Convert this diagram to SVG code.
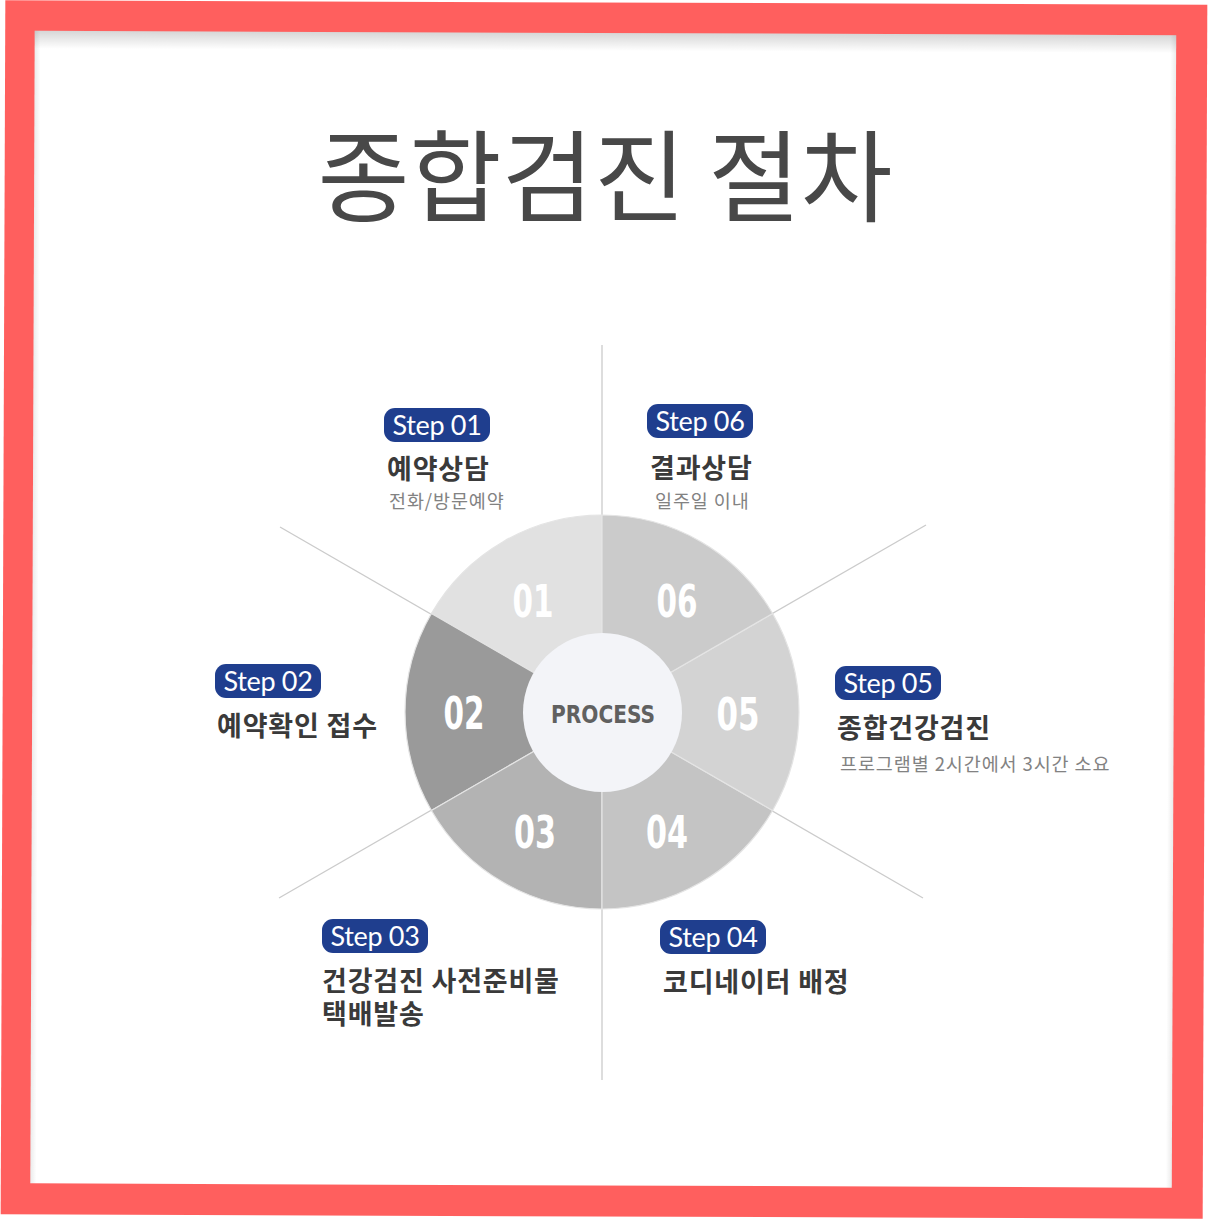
<svg xmlns="http://www.w3.org/2000/svg" width="1208" height="1220" viewBox="0 0 1208 1220">
  <defs>
    <linearGradient id="topShadow" x1="0" y1="0" x2="0" y2="1">
      <stop offset="0" stop-color="#000" stop-opacity="0.16"/>
      <stop offset="1" stop-color="#000" stop-opacity="0"/>
    </linearGradient>
    <linearGradient id="leftShadow" x1="0" y1="0" x2="1" y2="0">
      <stop offset="0" stop-color="#000" stop-opacity="0.08"/>
      <stop offset="1" stop-color="#000" stop-opacity="0"/>
    </linearGradient>
    <linearGradient id="rightShadow" x1="1" y1="0" x2="0" y2="0">
      <stop offset="0" stop-color="#000" stop-opacity="0.08"/>
      <stop offset="1" stop-color="#000" stop-opacity="0"/>
    </linearGradient>
    <style>
      .badge { fill: #1f3e8e; }
      .badgeText { font-family: Lato, "Noto Sans", "Liberation Sans", sans-serif; font-size: 27px; fill: #ffffff; text-anchor: middle; letter-spacing: -0.3px; }
      .head { font-family: "Noto Sans CJK KR", "Noto Sans", sans-serif; font-weight: 700; font-size: 27px; fill: #3a3a3a; letter-spacing: 0.8px; }
      .sub { font-family: "Noto Sans CJK KR", "Noto Sans", sans-serif; font-weight: 400; font-size: 18.5px; fill: #828282; letter-spacing: 0.9px; }
      .num { font-family: "DejaVu Sans Condensed", "DejaVu Sans", sans-serif; font-weight: 700; font-size: 44px; fill: #ffffff; text-anchor: middle; }
      .conn { stroke: #cbcbcb; stroke-width: 1.3; fill: none; }
      .wedge { stroke: #e4e4e4; stroke-width: 1.2; }
    </style>
  </defs>

  <rect width="1208" height="1220" fill="#ffffff"/>

  <g id="frame" transform="rotate(0.22 604 609.5)">
    <rect x="3" y="2.5" width="1202" height="1214" fill="#ff5f5e"/>
    <rect x="32.5" y="33" width="1141.5" height="1152.5" fill="#ffffff"/>
    <rect x="32.5" y="33" width="1141.5" height="18" fill="url(#topShadow)"/>
    <rect x="32.5" y="33" width="6" height="1152.5" fill="url(#leftShadow)"/>
    <rect x="1168" y="33" width="6" height="1152.5" fill="url(#rightShadow)"/>
  </g>

  <text id="title" x="605" y="214" text-anchor="middle" font-family="'Noto Sans CJK KR', 'Noto Sans', sans-serif" font-size="100" font-weight="400" fill="#484848" textLength="575" lengthAdjust="spacingAndGlyphs">종합검진 절차</text>

  <g id="connectors">
    <line class="conn" x1="602" y1="345" x2="602" y2="1080"/>
    <line class="conn" x1="280" y1="527" x2="923" y2="898"/>
    <line class="conn" x1="279" y1="898" x2="926" y2="525"/>
  </g>

  <g id="wheel">
    <path id="seg01" class="wedge" fill="#e1e1e1" d="M602 712 L602 515 A197 197 0 0 0 431.4 613.5 Z"/>
    <path id="seg02" class="wedge" fill="#9a9a9a" d="M602 712 L431.4 613.5 A197 197 0 0 0 431.4 810.5 Z"/>
    <path id="seg03" class="wedge" fill="#b3b3b3" d="M602 712 L431.4 810.5 A197 197 0 0 0 602 909 Z"/>
    <path id="seg04" class="wedge" fill="#c4c4c4" d="M602 712 L602 909 A197 197 0 0 0 772.6 810.5 Z"/>
    <path id="seg05" class="wedge" fill="#d3d3d3" d="M602 712 L772.6 810.5 A197 197 0 0 0 772.6 613.5 Z"/>
    <path id="seg06" class="wedge" fill="#cbcbcb" d="M602 712 L772.6 613.5 A197 197 0 0 0 602 515 Z"/>
    <text class="num" x="533" y="617" textLength="41" lengthAdjust="spacingAndGlyphs">01</text>
    <text class="num" x="464" y="729" textLength="41" lengthAdjust="spacingAndGlyphs">02</text>
    <text class="num" x="535" y="848" textLength="42" lengthAdjust="spacingAndGlyphs">03</text>
    <text class="num" x="667" y="848" textLength="42" lengthAdjust="spacingAndGlyphs">04</text>
    <text class="num" x="738" y="730" textLength="43" lengthAdjust="spacingAndGlyphs">05</text>
    <text class="num" x="677" y="617" textLength="41" lengthAdjust="spacingAndGlyphs">06</text>
  </g>

  <g id="center">
    <circle cx="602.5" cy="712.5" r="79.5" fill="#f3f4f8"/>
    <text x="603" y="723" text-anchor="middle" font-family="'DejaVu Sans Condensed', 'DejaVu Sans', sans-serif" font-weight="700" font-size="25" fill="#606060" textLength="104" lengthAdjust="spacingAndGlyphs">PROCESS</text>
  </g>

  <g id="step01">
    <rect class="badge" x="384" y="408" width="106" height="34" rx="11"/>
    <text class="badgeText" x="437" y="435">Step 01</text>
    <text class="head" x="387" y="479">예약상담</text>
    <text class="sub" x="389" y="508">전화/방문예약</text>
  </g>

  <g id="step02">
    <rect class="badge" x="215" y="664" width="106" height="34" rx="11"/>
    <text class="badgeText" x="268" y="691">Step 02</text>
    <text class="head" x="217" y="736">예약확인 접수</text>
  </g>

  <g id="step03">
    <rect class="badge" x="322" y="919" width="106" height="34" rx="11"/>
    <text class="badgeText" x="375" y="946">Step 03</text>
    <text class="head" x="322" y="991">건강검진 사전준비물</text>
    <text class="head" x="322" y="1024">택배발송</text>
  </g>

  <g id="step04">
    <rect class="badge" x="660" y="920" width="106" height="34" rx="11"/>
    <text class="badgeText" x="713" y="947">Step 04</text>
    <text class="head" x="663" y="992">코디네이터 배정</text>
  </g>

  <g id="step05">
    <rect class="badge" x="835" y="666" width="106" height="34" rx="11"/>
    <text class="badgeText" x="888" y="693">Step 05</text>
    <text class="head" x="837" y="738">종합건강검진</text>
    <text class="sub" x="840" y="771">프로그램별 2시간에서 3시간 소요</text>
  </g>

  <g id="step06">
    <rect class="badge" x="647" y="404" width="106" height="34" rx="11"/>
    <text class="badgeText" x="700" y="431">Step 06</text>
    <text class="head" x="650" y="478">결과상담</text>
    <text class="sub" x="655" y="508">일주일 이내</text>
  </g>
</svg>
